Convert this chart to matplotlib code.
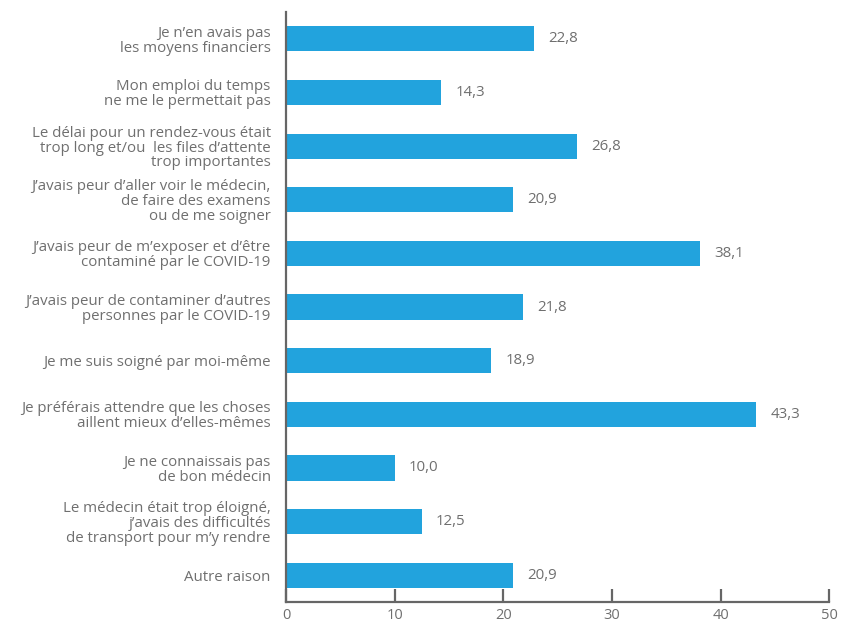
import matplotlib
matplotlib.use("Agg")
import matplotlib.pyplot as plt

categories = [
    "Je n\u2019en avais pas\nles moyens financiers",
    "Mon emploi du temps\nne me le permettait pas",
    "Le délai pour un rendez-vous était\ntrop long et/ou  les files d\u2019attente\ntrop importantes",
    "J\u2019avais peur d\u2019aller voir le médecin,\nde faire des examens\nou de me soigner",
    "J\u2019avais peur de m\u2019exposer et d\u2019être\ncontaminé par le COVID-19",
    "J\u2019avais peur de contaminer d\u2019autres\npersonnes par le COVID-19",
    "Je me suis soigné par moi-même",
    "Je préférais attendre que les choses\naillent mieux d\u2019elles-mêmes",
    "Je ne connaissais pas\nde bon médecin",
    "Le médecin était trop éloigné,\nj\u2019avais des difficultés\nde transport pour m\u2019y rendre",
    "Autre raison",
]
values = [22.8, 14.3, 26.8, 20.9, 38.1, 21.8, 18.9, 43.3, 10.0, 12.5, 20.9]
xticks = [0, 10, 20, 30, 40, 50]

BAR = "#22a3dd"
TEXT = "#6f6f6f"
SPINE = "#666666"

plt.rcParams["font.family"] = ["Open Sans", "DejaVu Sans"]

fig = plt.figure(figsize=(8.41, 6.21), dpi=100)
ax = fig.add_axes([0.340, 0.0306, 0.646, 0.950])

ypos = list(range(len(categories)))
ax.barh(ypos, values, height=0.47, color=BAR)

for y, v in zip(ypos, values):
    ax.text(v + 1.3, y, f"{v:.1f}".replace(".", ","), va="center", ha="left",
            fontsize=10.8, color=TEXT)

ax.set_xlim(0, 50)
ax.set_ylim(len(categories) - 0.5, -0.5)
ax.set_yticks(ypos)
ax.set_yticklabels(categories, fontsize=10.8, color=TEXT, linespacing=0.98)
ax.set_xticks(xticks)
ax.set_xticklabels([str(t) for t in xticks], fontsize=10.5, color=TEXT)

ax.tick_params(axis="y", length=0, pad=11)
ax.tick_params(axis="x", direction="in", length=9.5, width=1.6, color=SPINE, pad=4)

for s in ("top", "right"):
    ax.spines[s].set_visible(False)
for s in ("left", "bottom"):
    ax.spines[s].set_color(SPINE)
    ax.spines[s].set_linewidth(1.6)

fig.savefig("out.png", dpi=100)
